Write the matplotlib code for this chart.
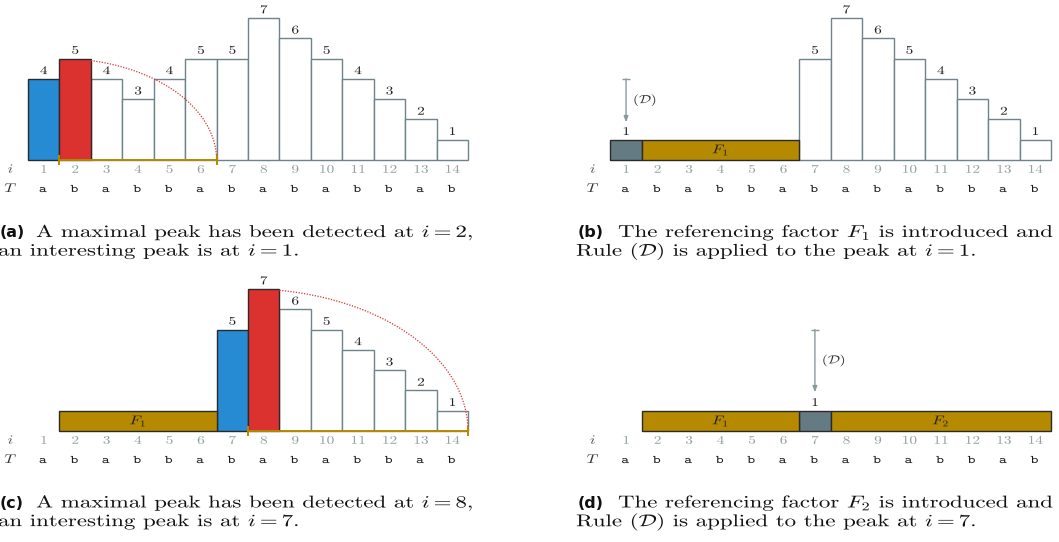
import numpy as np
import matplotlib.pyplot as plt
from matplotlib.patheffects import AbstractPathEffect
from matplotlib.transforms import Affine2D

plt.rcParams['mathtext.fontset'] = 'cm'
plt.rcParams['font.family'] = ['cmr10', 'DejaVu Serif']
plt.rcParams['axes.unicode_minus'] = False

# solarized-ish colours used in the figure
BLUE = '#268bd2'
RED = '#dc322f'
GOLD = '#b58900'
GRAY = '#657b83'
EDGE = '#6f838a'
DARK = '#2a2a2a'
IDX = '#93a1a1'
ARROW = '#8a9a9e'

# data
idx = list(range(1, 15))
T = ['a', 'b', 'a', 'b', 'b', 'a', 'b', 'a', 'b', 'a', 'b', 'b', 'a', 'b']
lcp = [4, 5, 4, 3, 4, 5, 5, 7, 6, 5, 4, 3, 2, 1]

# panel (a): maximal peak at 2, interesting peak at 1
a_white = list(range(3, 15))
a_blue, a_red = 1, 2
a_span = (2, 6)

# panel (b): factor F1 on 2..6, rule (D) on peak 1
b_white = list(range(7, 15))
b_gray = 1
b_factors = [(r'$F_1$', 2, 6)]
b_rule = (1, 4.0, 1.85)

# panel (c): maximal peak at 8, interesting peak at 7
c_white = list(range(9, 15))
c_blue, c_red = 7, 8
c_span = (8, 14)
c_factors = [(r'$F_1$', 2, 6)]

# panel (d): factor F2 on 8..14, rule (D) on peak 7
d_gray = 7
d_factors = [(r'$F_1$', 2, 6), (r'$F_2$', 8, 14)]
d_rule = (7, 5.0, 1.9)


class Wide(AbstractPathEffect):
    # the reference is stretched sideways, so widen the glyphs
    def __init__(self, sx, center=False):
        super().__init__()
        self.sx = sx
        self.center = center

    def draw_path(self, renderer, gc, tpath, affine, rgbFace=None):
        xc = 0
        if self.center and len(tpath.vertices):
            xc = (tpath.vertices[:, 0].min() + tpath.vertices[:, 0].max()) / 2
        tr = Affine2D().translate(-xc, 0).scale(self.sx, 1).translate(xc, 0)
        renderer.draw_path(gc, tpath, tr + affine, rgbFace)


WC = [Wide(1.3, center=True)]
WL = [Wide(1.3)]
WCAP = [Wide(1.34)]

W, H = 1059, 542
fig = plt.figure(figsize=(W / 100, H / 100), dpi=100)


def setup(left, top, w, h, bar1, base, ux, uy):
    ax = fig.add_axes([left / W, 1 - (top + h) / H, w / W, h / H])
    ax.set_xlim(0.5 + (left - bar1) / ux, 0.5 + (left + w - bar1) / ux)
    ax.set_ylim((base - top - h) / uy, (base - top) / uy)
    ax.axis('off')
    return ax


def rows(ax):
    for k, t in zip(idx, T):
        ax.text(k, -0.63, str(k), ha='center', va='baseline', color=IDX,
                fontsize=8.5, path_effects=WC)
        ax.text(k, -1.58, r'$\mathtt{%s}$' % t, ha='center', va='baseline',
                fontsize=8.3, color='#1a1a1a', path_effects=WC)
    ax.text(-0.04, -0.63, '$i$', ha='center', va='baseline', fontsize=9,
            color='#555555', path_effects=WC)
    ax.text(-0.04, -1.58, '$T$', ha='center', va='baseline', fontsize=9,
            color='#333333', path_effects=WC)


def label(ax, x, v):
    ax.annotate(str(v), (x, v), xytext=(0, 3.4), textcoords='offset points',
                ha='center', va='baseline', fontsize=8.5, color='#222222',
                path_effects=WC)


def bars(ax, pos, fc, ec, heights=None, z=2, lw=1.0):
    hs = [lcp[p - 1] for p in pos] if heights is None else heights
    ax.bar(pos, hs, width=1, color=fc, edgecolor=ec, linewidth=lw, zorder=z)
    for p, v in zip(pos, hs):
        label(ax, p, v)


def factors(ax, facs):
    for name, s, e in facs:
        ax.bar(s - 0.5, 1, width=e - s + 1, align='edge', color=GOLD,
               edgecolor=DARK, linewidth=1.0, zorder=3)
        ax.text((s + e) / 2, 0.5, name, ha='center', va='center', fontsize=9,
                color='#222222', zorder=4, path_effects=WC)


def span(ax, s, e, peak):
    h = lcp[peak - 1]
    t = np.linspace(np.arccos(1.0 / h), 0, 80)
    ax.plot(peak - 0.5 + h * np.cos(t), h * np.sin(t), color=RED, lw=0.9,
            ls=(0, (1, 1.2)), zorder=5)
    ax.plot([s - 0.5, e + 0.5], [0, 0], color=GOLD, lw=1.4, zorder=6,
            solid_capstyle='butt')
    ax.vlines([s - 0.5, e + 0.5], -0.25, 0.25, color=GOLD, lw=1.4, zorder=6)


def rule(ax, x, y0, y1):
    ax.annotate('', xy=(x, y1), xytext=(x, y0),
                arrowprops=dict(arrowstyle='-|>, head_length=0.35, '
                                'head_width=0.13',
                                color=ARROW, lw=1.0, shrinkA=0, shrinkB=0,
                                mutation_scale=10))
    ax.hlines(y0, x - 0.14, x + 0.14, color=ARROW, lw=1.0)
    ax.text(x + 0.22, (y0 + y1) / 2, r'$(\mathcal{D})$', ha='left',
            va='center', fontsize=8.5, color='#333333', path_effects=WL)


ux_l, ux_r, uy = 440 / 14, 440.7 / 14, 20.3

# (a)
ax = setup(0, 0, 480, 200, 28, 160, ux_l, uy)
bars(ax, a_white, 'white', EDGE)
bars(ax, [a_blue], BLUE, DARK, z=3)
bars(ax, [a_red], RED, DARK, z=3)
span(ax, a_span[0], a_span[1], a_red)
rows(ax)

# (b)
ax = setup(585, 0, 474, 200, 610.3, 160, ux_r, uy)
bars(ax, b_white, 'white', EDGE)
bars(ax, [b_gray], GRAY, DARK, heights=[1], z=3)
factors(ax, b_factors)
rule(ax, *b_rule)
rows(ax)

# (c)
ax = setup(0, 270, 480, 200, 28, 431, ux_l, uy)
bars(ax, c_white, 'white', EDGE)
bars(ax, [c_blue], BLUE, DARK, z=3)
bars(ax, [c_red], RED, DARK, z=3)
factors(ax, c_factors)
span(ax, c_span[0], c_span[1], c_red)
rows(ax)

# (d)
ax = setup(585, 270, 474, 200, 610.3, 431, ux_r, uy)
bars(ax, [d_gray], GRAY, DARK, heights=[1], z=3)
factors(ax, d_factors)
rule(ax, *d_rule)
rows(ax)

# captions, positioned in pixels
cap = fig.add_axes([0, 0, 1, 1])
cap.set_xlim(0, W)
cap.set_ylim(H, 0)
cap.axis('off')
cap.patch.set_alpha(0)


def caption(x, y, tag, gap, line1, line2):
    cap.text(x, y, tag, fontsize=11.5, family='DejaVu Sans', weight='bold',
             va='baseline', color='#111111')
    cap.text(x + gap, y, line1, va='baseline', fontsize=12.3,
             color='#111111', path_effects=WCAP)
    cap.text(x - 2, y + 18.7, line2, va='baseline', fontsize=12.3,
             color='#111111', path_effects=WCAP)


caption(0, 237, '(a)', 36, r'A maximal peak has been detected at $i = 2$,',
        r'an interesting peak is at $i = 1$.')
caption(578, 237, '(b)', 40, r'The referencing factor $F_1$ is introduced and',
        r'Rule $(\mathcal{D})$ is applied to the peak at $i = 1$.')
caption(0, 507.5, '(c)', 36, r'A maximal peak has been detected at $i = 8$,',
        r'an interesting peak is at $i = 7$.')
caption(578, 507.5, '(d)', 40, r'The referencing factor $F_2$ is introduced and',
        r'Rule $(\mathcal{D})$ is applied to the peak at $i = 7$.')

fig.savefig('out.png', dpi=100)
